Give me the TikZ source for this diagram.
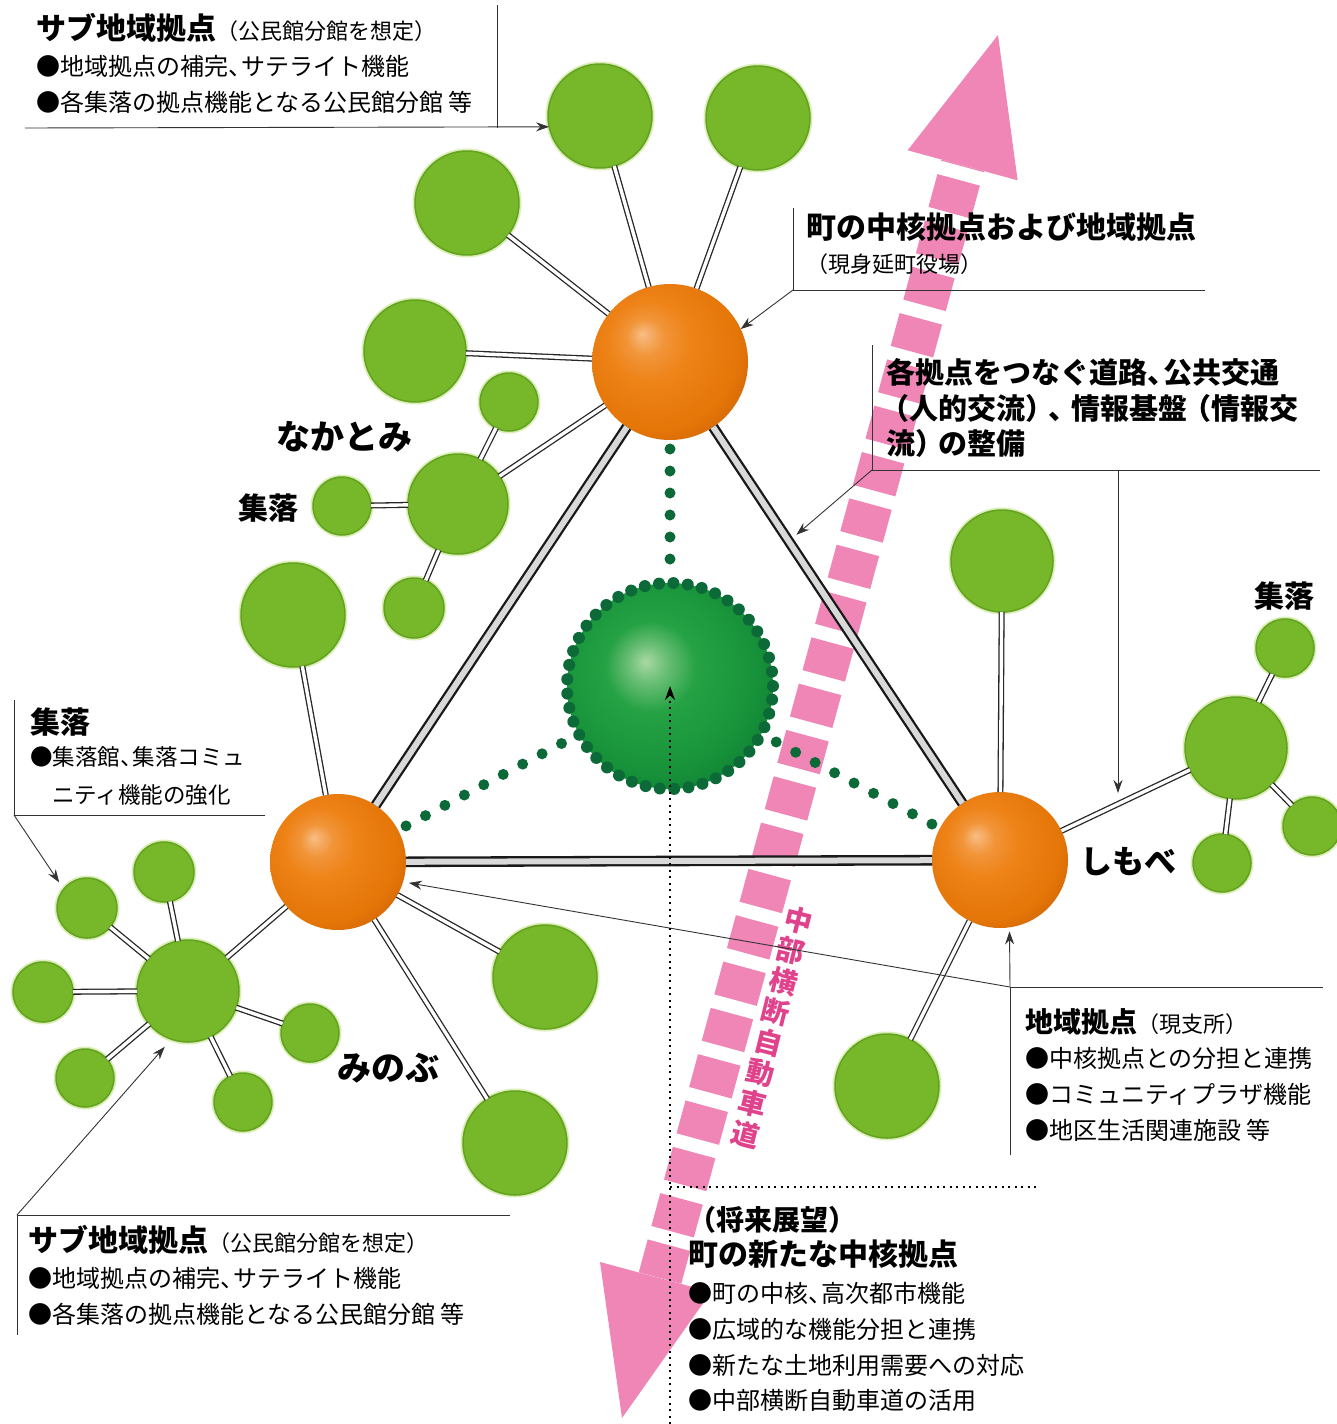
\documentclass[tikz,border=0pt]{standalone}
\usepackage{fontspec}
\setmainfont{Noto Sans CJK JP}
\usetikzlibrary{arrows.meta,calc}
\definecolor{gfill}{HTML}{76B82A}
\definecolor{gedge}{HTML}{62A21E}
\definecolor{ghalo}{HTML}{DCEEB8}
\definecolor{orHL}{HTML}{F8BD85}
\definecolor{orMid}{HTML}{EE8318}
\definecolor{orDk}{HTML}{E57608}
\definecolor{orEdge}{HTML}{C65E04}
\definecolor{grHL}{HTML}{A8D8A2}
\definecolor{grMid}{HTML}{25A244}
\definecolor{grDk}{HTML}{17923A}
\definecolor{grEdge}{HTML}{0F7D30}
\definecolor{cdot}{HTML}{0B6A38}
\definecolor{pinkA}{HTML}{EF86B6}
\definecolor{pinkT}{HTML}{E0428C}
\pgfdeclareradialshading{orangeball}{\pgfpoint{-9bp}{9bp}}{color(0bp)=(orHL); color(6bp)=(orMid!70!orHL); color(13bp)=(orMid); color(26bp)=(orDk); color(36bp)=(orEdge); color(50bp)=(orEdge)}
\pgfdeclareradialshading{greenball}{\pgfpoint{-6bp}{6bp}}{color(0bp)=(grHL); color(5bp)=(grHL!50!grMid); color(11bp)=(grMid); color(24bp)=(grDk); color(32bp)=(grEdge); color(50bp)=(grEdge)}
\newcommand\subtxt[1]{{\mdseries\fontsize{22}{22}\selectfont #1}}
\newcommand\nlp{\makebox[0.8em][r]{（}}
\newcommand\nrp{\makebox[0.8em][l]{）}}
\newcommand\ncm{\makebox[0.8em][l]{、}}
\newcommand\hcm{\makebox[0.55em][l]{、}}
\begin{document}
\begin{tikzpicture}[x=1pt,y=-1pt,
  gcirc/.style={circle, inner sep=0pt, outer sep=0pt, minimum size=#1, fill=gfill, draw=gedge, line width=1.5pt, preaction={draw=ghalo, line width=5pt}},
  oball/.style={circle, inner sep=0pt, outer sep=0pt, minimum size=#1, shade, shading=orangeball},
  conn/.style={draw=black!85, line width=1.3pt, double=white, double distance=3.4pt},
  triedge/.style={draw=black!90, line width=2.3pt, double=black!15, double distance=6pt},
  gdots/.style={draw=cdot, line width=11pt, line cap=round, dash pattern=on 0pt off 22pt, shorten <=9pt, shorten >=9pt},
  lblline/.style={draw=black!80, line width=0.9pt},
  lblarrow/.style={lblline, -{Stealth[length=13pt,width=9pt]}},
  hdtxt/.style={anchor=west, inner sep=0pt, font={\bfseries\fontsize{#1}{#1}\selectfont}},
  hdtxt/.default=30,
  bltxt/.style={anchor=west, inner sep=0pt, font={\fontsize{#1}{#1}\selectfont}},
  bltxt/.default=24,
  placetxt/.style={inner sep=0pt, font={\bfseries\fontsize{#1}{#1}\selectfont}},
  placetxt/.default=34,
  dotline/.style={draw=black, line width=2pt, dash pattern=on 2pt off 4.5pt}
]
\useasboundingbox (0,0) rectangle (1337,1424);
\fill[white] (0,0) rectangle (1337,1424);

% ---- pink road arrow (中部横断自動車道)
\coordinate (pb) at (622,1418);
\coordinate (pt) at (998,35);
\coordinate (pbb) at (660,1278);
\coordinate (ptb) at (962.6,165.3);
\draw[pinkA, line width=44pt, dash pattern=on 34pt off 14pt] (pbb) -- (ptb);
\fill[pinkA] (pt) -- (1017.6,180.3) -- (907.6,150.3) -- cycle;
\fill[pinkA] (pb) -- (711,1292) -- (600,1262) -- cycle;
\node[rotate=-14, text=pinkT, align=center, inner sep=0pt, font={\bfseries\fontsize{28}{31.5}\selectfont}] (hwy) at (772,1027) {中\\部\\横\\断\\自\\動\\車\\道};

% ---- main hubs
\node[oball=156pt] (O1) at (670,362) {};
\node[oball=136pt] (O2) at (338,862) {};
\node[oball=136pt] (O3) at (1000,860) {};
\node[circle, inner sep=0pt, minimum size=206pt, shade, shading=greenball, draw=cdot, line width=12pt, line cap=round, dash pattern=on 0pt off 14.4pt] (C) at (670,686) {};

% ---- green settlements
\node[gcirc=104pt] (t1) at (600,116) {};
\node[gcirc=104pt] (t2) at (758,118) {};
\node[gcirc=104pt] (t3) at (467,203) {};
\node[gcirc=102pt] (t4) at (415,351) {};
\node[gcirc=58pt]  (t5) at (509,402) {};
\node[gcirc=100pt] (n0) at (458,504) {};
\node[gcirc=58pt]  (n1) at (342,506) {};
\node[gcirc=60pt]  (n2) at (414,608) {};
\node[gcirc=104pt] (l0) at (293,615) {};
\node[gcirc=102pt] (r1) at (1002,561) {};
\node[gcirc=102pt] (h3) at (1236,748) {};
\node[gcirc=58pt]  (r2) at (1285,648) {};
\node[gcirc=58pt]  (r3) at (1312,826) {};
\node[gcirc=58pt]  (r4) at (1222,863) {};
\node[gcirc=104pt] (r5) at (887,1086) {};
\node[gcirc=102pt] (h2) at (188,991) {};
\node[gcirc=60pt]  (m1) at (87,908) {};
\node[gcirc=60pt]  (m2) at (164,872) {};
\node[gcirc=60pt]  (m3) at (43,992) {};
\node[gcirc=58pt]  (m4) at (85,1078) {};
\node[gcirc=58pt]  (m5) at (243,1102) {};
\node[gcirc=58pt]  (m6) at (310,1033) {};
\node[gcirc=104pt] (b1) at (545,977) {};
\node[gcirc=104pt] (b2) at (515,1143) {};

% ---- connectors
\foreach \a/\b in {O1/t1,O1/t2,O1/t3,O1/t4,O1/n0,n0/t5,n0/n1,n0/n2,O2/l0,O2/h2,O2/b1,O2/b2,h2/m1,h2/m2,h2/m3,h2/m4,h2/m5,h2/m6,O3/r1,O3/h3,O3/r5,h3/r2,h3/r3,h3/r4}
  \draw[conn] (\a) -- (\b);
\draw[triedge] (O1) -- (O2);
\draw[triedge] (O1) -- (O3);
\draw[triedge] (O2) -- (O3);
\draw[gdots] (O1) -- (C);
\draw[gdots] (O2) -- (C);
\draw[gdots] (O3) -- (C);

% ---- place names
\node[placetxt] (nakatomi) at (344,437) {なかとみ};
\node[placetxt=30] (sh1) at (268,508) {集落};
\node[placetxt=30] (sh2) at (1284,596) {集落};
\node[placetxt=32] (shimobe) at (1128,862) {しもべ};
\node[placetxt] (minobu) at (388,1068) {みのぶ};

% ---- top-left label
\node[hdtxt] (tlh) at (36,28) {サブ地域拠点\subtxt{（公民館分館を想定）}};
\node[bltxt] (tlb1) at (36,66) {●地域拠点の補完\hcm サテライト機能};
\node[bltxt] (tlb2) at (36,102) {●各集落の拠点機能となる公民館分館 等};
\coordinate (tla) at (497,5);
\coordinate (tlb) at (497,128);
\coordinate (tlc) at (25,128);
\draw[lblline] (tla) -- (tlb);
\draw[lblarrow] (tlc) -- (t1.192);

% ---- top-right label
\node[hdtxt] (trh) at (806,227) {町の中核拠点および地域拠点};
\node[bltxt=22] (trs) at (806,264) {（現身延町役場）};
\coordinate (tra) at (793,208);
\coordinate (trb) at (793,290);
\coordinate (trc) at (1205,290);
\draw[lblline] (tra) -- (trb) -- (trc);
\draw[lblarrow] (trb) -- (O1.25);

% ---- road / info label
\node[hdtxt=29] (rd1) at (886,372) {各拠点をつなぐ道路\hcm 公共交通};
\node[hdtxt=29] (rd2) at (886,408) {\nlp 人的交流\nrp\ncm 情報基盤\nlp 情報交};
\node[hdtxt=29] (rd3) at (886,443) {流\nrp の整備};
\coordinate (rda) at (872,345);
\coordinate (rdb) at (872,470);
\coordinate (rdc) at (1320,470);
\coordinate (rdd) at (1118,470);
\coordinate (ep) at ($(O1)!0.36!(O3)$);
\coordinate (ep2) at ($(O3)!0.5!(h3)$);
\draw[lblline] (rda) -- (rdb) -- (rdc);
\draw[lblarrow, shorten >=10pt] (rdb) -- (ep);
\draw[lblarrow, shorten >=11pt] (rdd) -- (ep2);

% ---- left 集落 label
\node[hdtxt] (lsh) at (30,722) {集落};
\node[bltxt=22.5] (lsb1) at (30,757) {●集落館\hcm 集落コミュ};
\node[bltxt=22.5] (lsb2) at (52,795) {ニティ機能の強化};
\coordinate (lsa) at (14,700);
\coordinate (lsb) at (14,815);
\coordinate (lsc) at (265,815);
\draw[lblline] (lsa) -- (lsb) -- (lsc);
\draw[lblarrow, shorten >=8pt] (lsb) -- (m1.141);

% ---- bottom-left label
\node[hdtxt] (blh) at (28,1240) {サブ地域拠点\subtxt{（公民館分館を想定）}};
\node[bltxt] (blb1) at (28,1278) {●地域拠点の補完\hcm サテライト機能};
\node[bltxt] (blb2) at (28,1314) {●各集落の拠点機能となる公民館分館 等};
\coordinate (bla) at (17,1335);
\coordinate (blb) at (17,1215);
\coordinate (blc) at (510,1215);
\draw[lblline] (bla) -- (blb) -- (blc);
\draw[lblarrow, shorten >=10pt] (blb) -- (h2.251);

% ---- bottom-right label
\node[hdtxt=28] (brh) at (1025,1022) {地域拠点\subtxt{（現支所）}};
\node[bltxt] (brb1) at (1025,1058) {●中核拠点との分担と連携};
\node[bltxt] (brb2) at (1025,1094) {●コミュニティプラザ機能};
\node[bltxt] (brb3) at (1025,1130) {●地区生活関連施設 等};
\coordinate (bra) at (1010,1155);
\coordinate (brb) at (1010,987);
\coordinate (brc) at (1323,987);
\draw[lblline] (bra) -- (brb) -- (brc);
\draw[lblarrow, shorten >=4pt] (brb) -- (O3.-82);
\draw[lblarrow, shorten >=6pt] (brb) -- (O2.-17);

% ---- future core label
\coordinate (fa) at (670,1187);
\coordinate (fb) at (1040,1187);
\coordinate (fc) at (670,1424);
\draw[dotline] (fa) -- (fb);
\draw[dotline, -{Stealth[length=14pt,width=10pt]}] (fc) -- (C.center);
\node[hdtxt=28] (fh1) at (688,1220) {（将来展望）};
\node[hdtxt] (fh2) at (688,1254) {町の新たな中核拠点};
\node[bltxt] (fb1) at (688,1293) {●町の中核\hcm 高次都市機能};
\node[bltxt] (fb2) at (688,1329) {●広域的な機能分担と連携};
\node[bltxt] (fb3) at (688,1365) {●新たな土地利用需要への対応};
\node[bltxt] (fb4) at (688,1400) {●中部横断自動車道の活用};
\end{tikzpicture}
\end{document}
